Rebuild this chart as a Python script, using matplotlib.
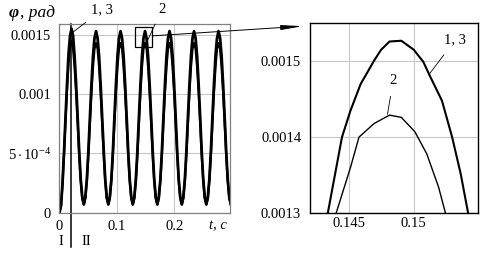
import matplotlib
matplotlib.use("Agg")
import matplotlib.pyplot as plt
from matplotlib.patches import Rectangle, ConnectionPatch

plt.rcParams["font.family"] = ["Liberation Serif", "DejaVu Serif"]
plt.rcParams["mathtext.fontset"] = "custom"
plt.rcParams["mathtext.rm"] = "Liberation Serif"
plt.rcParams["mathtext.it"] = "Liberation Serif:italic"

# main plot: phi(t), curves 1,3 and 2
t = [0.0, 0.0027, 0.0053, 0.008, 0.0105, 0.0131, 0.0158, 0.0184, 0.021,
     0.0237, 0.0263, 0.029, 0.0317, 0.0343, 0.037, 0.0397, 0.0424,
     0.045, 0.0477, 0.0504, 0.053, 0.0557, 0.0584, 0.061, 0.0637,
     0.0664, 0.069, 0.0717, 0.0744, 0.0771, 0.0797, 0.0824, 0.0851,
     0.0877, 0.0904, 0.0931, 0.0957, 0.0984, 0.1011, 0.1037, 0.1064,
     0.1091, 0.1117, 0.1144, 0.1171, 0.1197, 0.1224, 0.1251, 0.1278,
     0.1304, 0.1331, 0.1358, 0.1384, 0.1411, 0.1438, 0.1464, 0.1491,
     0.1518, 0.1544, 0.1571, 0.1598, 0.1624, 0.1651, 0.1678, 0.1705,
     0.1731, 0.1758, 0.1785, 0.1811, 0.1838, 0.1865, 0.1891, 0.1918,
     0.1945, 0.1971, 0.1998, 0.2025, 0.2051, 0.2078, 0.2105, 0.2132,
     0.2158, 0.2185, 0.2212, 0.2238, 0.2265, 0.2292, 0.2318, 0.2345,
     0.2372, 0.2398, 0.2425, 0.2452, 0.2478, 0.2505, 0.2532, 0.2559,
     0.2585, 0.2612, 0.2639, 0.2665, 0.2692, 0.2719, 0.2745, 0.2772,
     0.2799, 0.2825, 0.2852, 0.2879, 0.2905, 0.2932, 0.2959, 0.2986]
phi_13 = [0.0, 0.00006, 0.00025, 0.00052, 0.0008, 0.00108, 0.00134, 0.00149, 0.00155,
          0.00149, 0.00132, 0.00108, 0.0008, 0.00052, 0.00028, 0.00013, 0.00007,
          0.00013, 0.00028, 0.00052, 0.0008, 0.00108, 0.00132, 0.00147, 0.00153,
          0.00147, 0.00132, 0.00108, 0.0008, 0.00052, 0.00028, 0.00013, 0.00007,
          0.00013, 0.00028, 0.00052, 0.0008, 0.00108, 0.00132, 0.00147, 0.00153,
          0.00147, 0.00132, 0.00108, 0.0008, 0.00052, 0.00028, 0.00013, 0.00007,
          0.00013, 0.00028, 0.00052, 0.0008, 0.00108, 0.00132, 0.00147, 0.00153,
          0.00147, 0.00132, 0.00108, 0.0008, 0.00052, 0.00028, 0.00013, 0.00007,
          0.00013, 0.00028, 0.00052, 0.0008, 0.00108, 0.00132, 0.00147, 0.00153,
          0.00147, 0.00132, 0.00108, 0.0008, 0.00052, 0.00028, 0.00013, 0.00007,
          0.00013, 0.00028, 0.00052, 0.0008, 0.00108, 0.00132, 0.00147, 0.00153,
          0.00147, 0.00132, 0.00108, 0.0008, 0.00052, 0.00028, 0.00013, 0.00007,
          0.00013, 0.00028, 0.00052, 0.0008, 0.00108, 0.00132, 0.00147, 0.00153,
          0.00147, 0.00132, 0.00108, 0.0008, 0.00052, 0.00028, 0.00013, 0.00007]
phi_2 = [0.0, 0.00006, 0.00024, 0.0005, 0.00077, 0.00103, 0.00126, 0.0014, 0.00145,
         0.00138, 0.00123, 0.00101, 0.00075, 0.00049, 0.00027, 0.00012, 0.00007,
         0.00012, 0.00027, 0.00049, 0.00075, 0.00101, 0.00123, 0.00138, 0.00143,
         0.00138, 0.00123, 0.00101, 0.00075, 0.00049, 0.00027, 0.00012, 0.00007,
         0.00012, 0.00027, 0.00049, 0.00075, 0.00101, 0.00123, 0.00138, 0.00143,
         0.00138, 0.00123, 0.00101, 0.00075, 0.00049, 0.00027, 0.00012, 0.00007,
         0.00012, 0.00027, 0.00049, 0.00075, 0.00101, 0.00123, 0.00138, 0.00143,
         0.00138, 0.00123, 0.00101, 0.00075, 0.00049, 0.00027, 0.00012, 0.00007,
         0.00012, 0.00027, 0.00049, 0.00075, 0.00101, 0.00123, 0.00138, 0.00143,
         0.00138, 0.00123, 0.00101, 0.00075, 0.00049, 0.00027, 0.00012, 0.00007,
         0.00012, 0.00027, 0.00049, 0.00075, 0.00101, 0.00123, 0.00138, 0.00143,
         0.00138, 0.00123, 0.00101, 0.00075, 0.00049, 0.00027, 0.00012, 0.00007,
         0.00012, 0.00027, 0.00049, 0.00075, 0.00101, 0.00123, 0.00138, 0.00143,
         0.00138, 0.00123, 0.00101, 0.00075, 0.00049, 0.00027, 0.00012, 0.00007]

# zoomed view around the 4th peak
tz_13 = [0.14332, 0.14442, 0.14508, 0.14587, 0.14692, 0.14745, 0.14811, 0.14903,
         0.15, 0.15074, 0.15126, 0.15218, 0.15297, 0.15363, 0.15421]
phiz_13 = [0.0013, 0.0014, 0.001435, 0.00147, 0.001501, 0.001515, 0.001526, 0.001527,
           0.001515, 0.001499, 0.00148, 0.001448, 0.0014, 0.001352, 0.0013]
tz_2 = [0.14397, 0.14508, 0.14574, 0.14692, 0.14811, 0.14903, 0.15008, 0.151,
        0.15192, 0.15245]
phiz_2 = [0.0013, 0.00136, 0.0014, 0.001418, 0.001429, 0.001426, 0.001407, 0.001378,
          0.001334, 0.0013]

xticks_main = [0, 0.1, 0.2]
xlabels_main = ["0", "0.1", "0.2"]
yticks_main = [0, 0.0005, 0.001, 0.0015]
ylabels_main = ["0", r"$5\cdot10^{-4}$", "0.001", "0.0015"]
xticks_zoom = [0.145, 0.15]
xlabels_zoom = ["0.145", "0.15"]
yticks_zoom = [0.0013, 0.0014, 0.0015]
ylabels_zoom = ["0.0013", "0.0014", "0.0015"]

fig = plt.figure(figsize=(4.84, 2.54), dpi=100)
ax1 = fig.add_axes([0.1229, 0.1626, 0.3533, 0.7429])
ax2 = fig.add_axes([0.6395, 0.1614, 0.3487, 0.7469])

grid_col = "#c8c8c8"

# main plot
ax1.plot(t, phi_13, color="black", lw=2.0)
ax1.plot(t, phi_2, color="black", lw=1.6)
ax1.set_xlim(0, 0.298)
ax1.set_ylim(0, 0.00159)
ax1.set_xticks(xticks_main, xlabels_main)
ax1.set_yticks(yticks_main, ylabels_main)
ax1.grid(True, color=grid_col, lw=0.8)
ax1.tick_params(length=0, labelsize=10.5)
ax1.tick_params(axis="x", pad=5)
ax1.tick_params(axis="y", pad=6)
for s in ax1.spines.values():
    s.set_color("#808080")
    s.set_linewidth(0.9)

# boundary between zone I and II
ax1.axvline(0.0207, ymin=-0.18, ymax=1.0, color="black", lw=1.1, clip_on=False)
ax1.text(0.002, -0.000245, "I", fontsize=10.5, ha="center", va="center", clip_on=False)
ax1.text(0.047, -0.000245, "II", fontsize=10.5, ha="center", va="center", clip_on=False)
ax1.text(0.277, -0.00011, "t, c", fontsize=10.5, style="italic", ha="center", va="center",
         clip_on=False)

ax1.annotate("1, 3", xy=(0.0232, 0.00152), xytext=(0.0745, 0.00171),
             fontsize=10.5, ha="center", va="center", annotation_clip=False,
             arrowprops=dict(arrowstyle="-", lw=0.6, color="black", shrinkA=4, shrinkB=0))
ax1.annotate("2", xy=(0.1533, 0.00145), xytext=(0.1785, 0.00171),
             fontsize=10.5, ha="center", va="center", annotation_clip=False,
             arrowprops=dict(arrowstyle="-", lw=0.6, color="black", shrinkA=4, shrinkB=0))

fig.text(0.018, 0.95, "φ", fontsize=12.5, style="italic", fontweight="bold",
         ha="left", va="center")
fig.text(0.042, 0.95, ", рад", fontsize=12.5, style="italic", ha="left", va="center")

# zoom rectangle and link
rx0, rx1, ry0, ry1 = 0.1313, 0.1618, 0.001395, 0.001565
ax1.add_patch(Rectangle((rx0, ry0), rx1 - rx0, ry1 - ry0, fill=False,
                        edgecolor="black", lw=0.9, zorder=5))
con = ConnectionPatch(xyA=(rx1, 0.00149), coordsA=ax1.transData,
                      xyB=(-0.04, 0.985), coordsB=ax2.transAxes,
                      arrowstyle="-|>,head_length=1.6,head_width=0.18",
                      color="black", lw=0.7, mutation_scale=8)
fig.add_artist(con)

# zoomed plot
ax2.plot(tz_13, phiz_13, color="black", lw=1.5)
ax2.plot(tz_2, phiz_2, color="black", lw=1.0)
ax2.set_xlim(0.1419, 0.155)
ax2.set_ylim(0.0013, 0.00155)
ax2.set_xticks(xticks_zoom, xlabels_zoom)
ax2.set_yticks(yticks_zoom, ylabels_zoom)
ax2.grid(True, color=grid_col, lw=0.8)
ax2.tick_params(length=0, labelsize=10.5)
ax2.tick_params(axis="x", pad=3)
ax2.tick_params(axis="y", pad=6)
for s in ax2.spines.values():
    s.set_color("black")
    s.set_linewidth(1.0)

ax2.annotate("1, 3", xy=(0.15115, 0.001482), xytext=(0.1532, 0.001528),
             fontsize=10.5, ha="center", va="center",
             arrowprops=dict(arrowstyle="-", lw=0.6, color="black", shrinkA=5, shrinkB=0))
ax2.annotate("2", xy=(0.14795, 0.00143), xytext=(0.1484, 0.001475),
             fontsize=10.5, ha="center", va="center",
             arrowprops=dict(arrowstyle="-", lw=0.6, color="black", shrinkA=5, shrinkB=0))

fig.savefig("out.png", dpi=100)
